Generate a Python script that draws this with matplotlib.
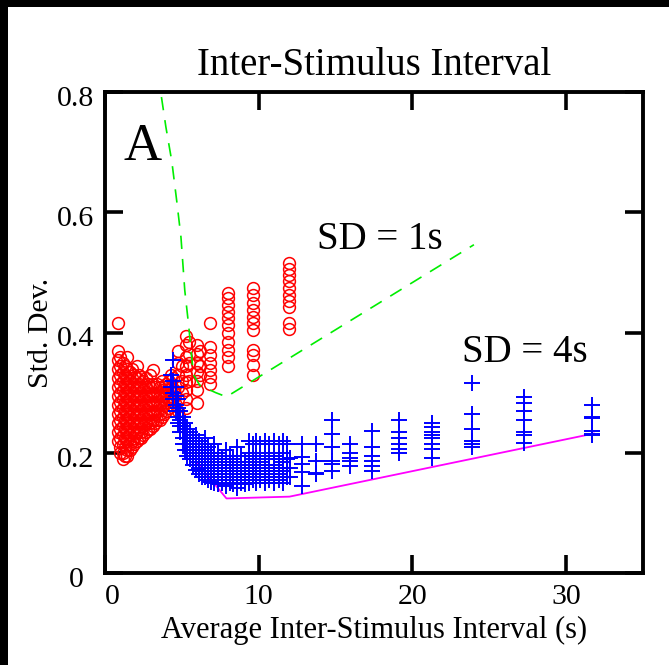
import matplotlib
matplotlib.use("Agg")
import matplotlib.pyplot as plt
from matplotlib.patches import Rectangle
from matplotlib.transforms import ScaledTranslation

# ---- data -------------------------------------------------------------
# SD = 1 s condition: red circles, grouped by average interval (x) -> std. dev. values
red_col_x = [0.85, 1.0, 1.15, 1.3, 1.45, 1.6, 1.75, 1.9, 2.05, 2.2, 2.35, 2.5, 2.65,
             2.8, 2.95, 3.1, 3.25, 3.4, 3.55, 3.7, 3.85, 4.0, 4.15, 4.3, 4.45,
             4.75, 5.0, 5.3, 5.45, 6.0, 6.2, 6.8, 8.0, 9.6, 12.0]
red_col_y = [
    [0.415, 0.37, 0.355, 0.34, 0.325, 0.31, 0.295, 0.28, 0.265, 0.25, 0.235, 0.22],
    [0.36, 0.345, 0.33, 0.315, 0.30, 0.285, 0.27, 0.255, 0.24, 0.225, 0.21, 0.20],
    [0.35, 0.335, 0.32, 0.305, 0.29, 0.275, 0.26, 0.245, 0.23, 0.215, 0.20, 0.19],
    [0.345, 0.33, 0.315, 0.30, 0.285, 0.27, 0.255, 0.24, 0.225, 0.21, 0.195],
    [0.36, 0.34, 0.325, 0.31, 0.295, 0.28, 0.265, 0.25, 0.235, 0.22, 0.205, 0.195],
    [0.335, 0.32, 0.305, 0.29, 0.275, 0.26, 0.245, 0.23, 0.215, 0.205],
    [0.34, 0.325, 0.31, 0.295, 0.28, 0.265, 0.25, 0.235, 0.22, 0.21],
    [0.33, 0.315, 0.30, 0.285, 0.27, 0.255, 0.24, 0.225, 0.215],
    [0.345, 0.325, 0.31, 0.295, 0.28, 0.265, 0.25, 0.235, 0.22],
    [0.33, 0.315, 0.30, 0.285, 0.27, 0.255, 0.24, 0.225],
    [0.326, 0.31, 0.295, 0.28, 0.265, 0.25, 0.235, 0.225],
    [0.32, 0.305, 0.29, 0.275, 0.26, 0.245, 0.23],
    [0.325, 0.31, 0.295, 0.28, 0.265, 0.25, 0.235],
    [0.315, 0.30, 0.285, 0.27, 0.255, 0.24],
    [0.33, 0.31, 0.295, 0.28, 0.265, 0.25, 0.24],
    [0.337, 0.315, 0.30, 0.285, 0.27, 0.255, 0.245],
    [0.31, 0.295, 0.28, 0.265, 0.25],
    [0.315, 0.30, 0.285, 0.27, 0.255],
    [0.31, 0.295, 0.28, 0.265, 0.255],
    [0.32, 0.305, 0.29, 0.275, 0.26],
    [0.31, 0.295, 0.28, 0.265],
    [0.315, 0.30, 0.285, 0.27],
    [0.32, 0.305, 0.29, 0.275],
    [0.33, 0.31, 0.295, 0.28],
    [0.325, 0.305, 0.29],
    [0.37, 0.35, 0.33, 0.31, 0.29, 0.27],
    [0.345, 0.32, 0.30],
    [0.395, 0.38, 0.36, 0.345, 0.33, 0.317, 0.305, 0.29, 0.275],
    [0.385, 0.365, 0.35, 0.32],
    [0.38, 0.365, 0.35, 0.335, 0.32, 0.305, 0.282],
    [0.37, 0.345, 0.33],
    [0.415, 0.376, 0.362, 0.349, 0.337, 0.326, 0.315],
    [0.466, 0.457, 0.446, 0.434, 0.424, 0.412, 0.40, 0.384, 0.371, 0.36, 0.345],
    [0.474, 0.462, 0.449, 0.437, 0.426, 0.416, 0.404, 0.371, 0.362, 0.346, 0.329],
    [0.515, 0.505, 0.495, 0.485, 0.474, 0.462, 0.452, 0.442, 0.416, 0.405],
]

# SD = 4 s condition: blue crosses
blue_col_x = [4.3, 4.45, 4.6, 4.75, 4.9, 5.05, 5.2, 5.35, 5.5, 5.7, 5.9, 6.1, 6.3,
              6.5, 6.7, 6.9, 7.1, 7.35, 7.6, 7.85, 8.1, 8.35, 8.6, 8.85, 9.1, 9.35,
              9.6, 9.85, 10.1, 10.4, 10.7, 11.0, 11.3, 11.6, 11.85, 12.05, 12.8,
              13.75, 14.8, 15.95, 17.4, 19.15, 21.3, 23.85, 27.25, 31.7]
blue_col_y = [
    [0.33, 0.31],
    [0.355, 0.32, 0.30, 0.29],
    [0.31, 0.295, 0.28, 0.27],
    [0.29, 0.275, 0.26, 0.25],
    [0.27, 0.255, 0.245, 0.235],
    [0.26, 0.245, 0.235, 0.225, 0.215],
    [0.25, 0.235, 0.225, 0.215, 0.205],
    [0.24, 0.225, 0.215, 0.205, 0.195],
    [0.235, 0.22, 0.21, 0.20, 0.19],
    [0.225, 0.21, 0.20, 0.19, 0.18],
    [0.23, 0.215, 0.20, 0.19, 0.18, 0.172],
    [0.22, 0.205, 0.195, 0.185, 0.175, 0.165],
    [0.21, 0.20, 0.19, 0.18, 0.17, 0.16],
    [0.225, 0.205, 0.19, 0.18, 0.17, 0.16],
    [0.21, 0.195, 0.185, 0.175, 0.165, 0.155],
    [0.20, 0.19, 0.18, 0.17, 0.16, 0.152],
    [0.215, 0.195, 0.18, 0.17, 0.16, 0.15],
    [0.20, 0.185, 0.175, 0.165, 0.155, 0.148],
    [0.19, 0.18, 0.17, 0.16, 0.15],
    [0.205, 0.185, 0.175, 0.165, 0.155, 0.145],
    [0.195, 0.18, 0.17, 0.16, 0.15],
    [0.19, 0.18, 0.17, 0.16, 0.148],
    [0.21, 0.185, 0.175, 0.165, 0.155, 0.142],
    [0.195, 0.18, 0.17, 0.16, 0.15],
    [0.185, 0.175, 0.165, 0.155, 0.148],
    [0.22, 0.20, 0.18, 0.17, 0.16, 0.15],
    [0.215, 0.19, 0.175, 0.165, 0.155],
    [0.22, 0.195, 0.18, 0.17, 0.16, 0.15],
    [0.215, 0.185, 0.175, 0.165, 0.155],
    [0.22, 0.20, 0.18, 0.17, 0.16, 0.15],
    [0.215, 0.19, 0.175, 0.165, 0.155],
    [0.22, 0.195, 0.18, 0.17, 0.16, 0.15],
    [0.215, 0.19, 0.175, 0.165, 0.155],
    [0.22, 0.20, 0.185, 0.17, 0.16, 0.15],
    [0.215, 0.19, 0.175, 0.16],
    [0.192, 0.175, 0.159],
    [0.215, 0.193, 0.182, 0.168, 0.145],
    [0.215, 0.187, 0.167, 0.165],
    [0.254, 0.232, 0.21, 0.187, 0.182, 0.17],
    [0.215, 0.20, 0.192, 0.187, 0.178],
    [0.237, 0.21, 0.195, 0.187, 0.178, 0.17],
    [0.254, 0.234, 0.224, 0.215, 0.207, 0.199],
    [0.249, 0.242, 0.234, 0.229, 0.224, 0.215, 0.207, 0.192],
    [0.316, 0.265, 0.24, 0.22, 0.215, 0.21],
    [0.292, 0.282, 0.27, 0.254, 0.234, 0.229, 0.217],
    [0.279, 0.259, 0.257, 0.237, 0.232, 0.229],
]

# lower-bound curves for each condition
green_x = [3.45, 3.96, 4.35, 4.67, 4.94, 5.19, 5.45, 5.75, 6.17, 7.2, 7.9, 24.0]
green_y = [0.83, 0.742, 0.684, 0.618, 0.559, 0.47, 0.41, 0.33, 0.312, 0.30, 0.293, 0.546]
magenta_x = [5.95, 7.0, 7.9, 12.0, 31.8]
magenta_y = [0.184, 0.152, 0.124, 0.127, 0.232]

x_ticks = [0, 10, 20, 30]
y_ticks = [0, 0.2, 0.4, 0.6, 0.8]
y_tick_labels = ["0", "0.2", "0.4", "0.6", "0.8"]


def flatten(xs, ys):
    fx, fy = [], []
    for x, col in zip(xs, ys):
        for y in col:
            fx.append(x)
            fy.append(y)
    return fx, fy


red_x, red_y = flatten(red_col_x, red_col_y)
blue_x, blue_y = flatten(blue_col_x, blue_col_y)

# ---- figure -------------------------------------------------------------
plt.rcParams["font.family"] = ["Liberation Serif", "DejaVu Serif"]
W, H = 669, 665
fig = plt.figure(figsize=(W / 100, H / 100), dpi=100)
fig.patch.set_facecolor("white")

L, R, T, B = 105, 643, 92, 573
ax = fig.add_axes([L / W, 1 - B / H, (R - L) / W, (B - T) / H])

ax.plot(red_x, red_y, linestyle="none", marker="o", markersize=8.5,
        markerfacecolor="none", markeredgecolor="#ff0000", markeredgewidth=1.1, zorder=2)
ax.plot(green_x, green_y, color="#00ee00", linewidth=1.2,
        linestyle=(0, (8, 6)), zorder=3)
ax.plot(magenta_x, magenta_y, color="#ff00ff", linewidth=1.3, zorder=3)
ax.plot(blue_x, blue_y, linestyle="none", marker="+", markersize=11,
        markeredgecolor="#0000ff", markeredgewidth=1.4, zorder=4)

ax.set_xlim(0, 35)
ax.set_ylim(0, 0.8)
ax.set_xticks(x_ticks)
ax.set_yticks(y_ticks)
ax.set_yticklabels(y_tick_labels)

for s in ax.spines.values():
    s.set_linewidth(2.8)
ax.tick_params(direction="in", length=13, width=2.6, labelsize=21.5,
               top=True, right=True, pad=8)

# y labels sit a little below their ticks; the origin labels are nudged apart
dpi_tr = fig.dpi_scale_trans
for i, tick in enumerate(ax.yaxis.get_major_ticks()):
    dx = -10 if i == 0 else 0
    tick.label1.set_transform(tick.label1.get_transform()
                              + ScaledTranslation(dx / 100, -4 / 100, dpi_tr))
x0 = ax.xaxis.get_major_ticks()[0].label1
x0.set_transform(x0.get_transform() + ScaledTranslation(7 / 100, 0, dpi_tr))

ax.set_title("Inter-Stimulus Interval", fontsize=28, pad=12)
ax.set_xlabel("Average Inter-Stimulus Interval (s)", fontsize=22, labelpad=4)
ax.set_ylabel("Std. Dev.", fontsize=21.5, labelpad=2)

ax.text(0.035, 0.935, "A", transform=ax.transAxes, fontsize=38,
        ha="left", va="top")
ax.text(17.9, 0.554, "SD = 1s", fontsize=28, ha="center", va="center")
ax.text(27.3, 0.367, "SD = 4s", fontsize=28, ha="center", va="center")

# image frame strips along the top and left edges
fig.add_artist(Rectangle((0, 1 - 7 / H), 1, 7 / H, transform=fig.transFigure,
                         facecolor="black", edgecolor="none"))
fig.add_artist(Rectangle((0, 0), 8 / W, 1, transform=fig.transFigure,
                         facecolor="black", edgecolor="none"))

fig.savefig("out.png", dpi=100, facecolor="white")
